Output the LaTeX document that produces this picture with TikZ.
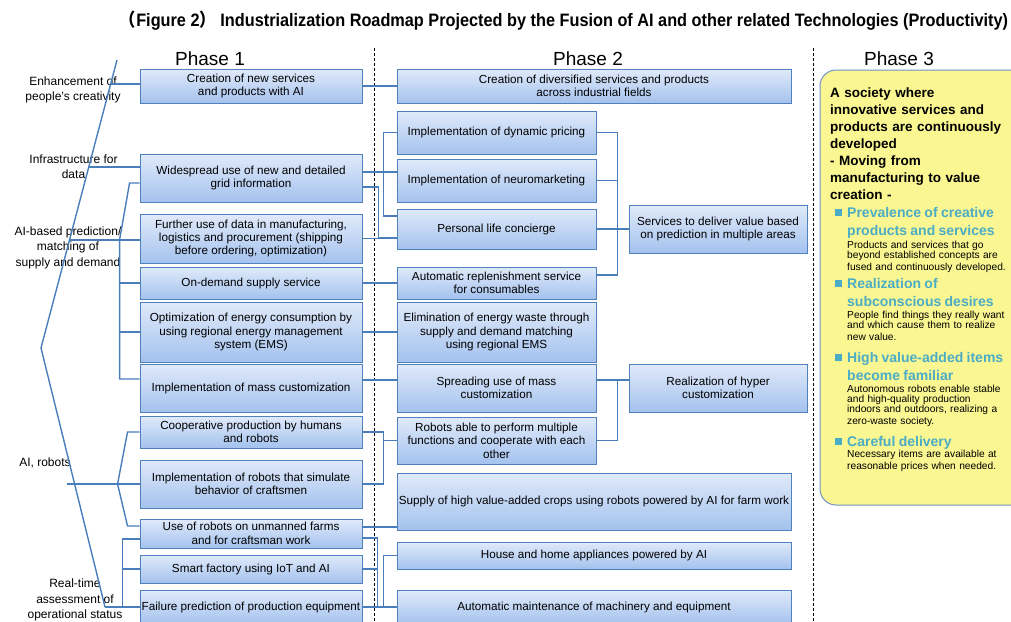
\documentclass[tikz,border=0pt]{standalone}
\usepackage{fontspec}
\setmainfont{Liberation Sans}
\newfontfamily\cjk{Noto Sans CJK SC}
\usetikzlibrary{positioning,calc,shadows}

\definecolor{boxtop}{RGB}{224,234,250}
\definecolor{boxbot}{RGB}{164,194,238}
\definecolor{boxline}{RGB}{79,129,189}
\definecolor{linkblue}{RGB}{74,126,187}
\definecolor{societyfill}{RGB}{250,246,145}
\definecolor{societyline}{RGB}{110,145,200}
\definecolor{itemteal}{RGB}{75,172,198}

\newcommand{\titlefont}{\fontsize{18pt}{21pt}\selectfont\bfseries}
\newcommand{\phasefont}{\fontsize{19pt}{22pt}\selectfont}
\newcommand{\boxfont}{\fontsize{11.7pt}{13.4pt}\selectfont}
\newcommand{\axisfont}{\fontsize{12pt}{15.5pt}\selectfont}
\newcommand{\societyfont}{\fontsize{13.5pt}{17pt}\selectfont\bfseries}
\newcommand{\itemHead}{\fontsize{14pt}{18pt}\selectfont\bfseries\color{itemteal}}
\newcommand{\itemBody}{\fontsize{10.2pt}{10pt}\selectfont\mdseries\color{black}}
\newcommand{\itemBullet}{\leavevmode\llap{\textcolor{itemteal}{\rule[1.5pt]{7pt}{7pt}}\hspace{5pt}}}

\begin{document}
\begin{tikzpicture}[x=1pt,y=-1pt]

    \tikzstyle{task} = [rectangle, draw=boxline, line width=0.9pt, top color=boxtop, bottom color=boxbot, align=center, inner sep=1pt, font=\boxfont, drop shadow={shadow xshift=1.2pt,shadow yshift=-1.2pt,opacity=0.25}]
    \tikzstyle{oneBox} = [task, minimum width=222pt]
    \tikzstyle{twoBox} = [task, minimum width=199pt]
    \tikzstyle{wideBox} = [task, minimum width=394pt]
    \tikzstyle{endBox} = [task, minimum width=178pt]
    \tikzstyle{link} = [draw=linkblue, line width=1.4pt]
    \tikzstyle{axis} = [font=\axisfont, align=center, inner sep=0pt]
    \tikzstyle{divider} = [densely dashed, line width=0.6pt]
    \tikzstyle{item} = [anchor=north west, text width=172pt, align=left, inner sep=0pt]

    \useasboundingbox (0,0) rectangle (1011,621);
    \clip (0,0) rectangle (1011,621);

    \node (title) at (564,21) {\resizebox{888pt}{\height}{\titlefont{\cjk （}Figure 2{\cjk ）} Industrialization Roadmap Projected by the Fusion of AI and other related Technologies (Productivity)}};

    \node[font=\phasefont] (phaseOne) at (210,59) {Phase 1};
    \node[font=\phasefont] (phaseTwo) at (588,59) {Phase 2};
    \node[font=\phasefont] (phaseThree) at (899,59) {Phase 3};

    \draw[divider] (374,48) -- (374,621);
    \draw[divider] (813,48) -- (813,621);

    % themes on the left
    \node[axis] (creativity) at (73,90) {Enhancement of\\people’s creativity};
    \node[axis] (dataInfra) at (73.5,166.5) {Infrastructure for\\data};
    \node[axis] (aiMatch) at (68,247.5) {AI-based prediction/\\matching of\\supply and demand};
    \node[axis] (aiRobot) at (45,463) {AI, robots};
    \node[axis] (realTime) at (75,600) {Real-time\\assessment of\\operational status};

    % phase 1
    \node[oneBox, minimum height=34pt] (newServ) at (251,86) {Creation of new services\\and products with AI};
    \node[oneBox, minimum height=48pt] (gridInfo) at (251,178) {Widespread use of new and detailed\\grid information};
    \node[oneBox, minimum height=49pt] (dataUse) at (251,238.5) {Further use of data in manufacturing,\\logistics and procurement (shipping\\before ordering, optimization)};
    \node[oneBox, minimum height=32pt] (onDemand) at (251,283) {On-demand supply service};
    \node[oneBox, minimum height=60pt] (energyOpt) at (251,332) {Optimization of energy consumption by\\using regional energy management\\system (EMS)};
    \node[oneBox, minimum height=48pt] (massCust) at (251,388) {Implementation of mass customization};
    \node[oneBox, minimum height=32pt] (coopProd) at (251,432) {Cooperative production by humans\\and robots};
    \node[oneBox, minimum height=48pt] (craftRobot) at (251,484) {Implementation of robots that simulate\\behavior of craftsmen};
    \node[oneBox, minimum height=29pt] (farmRobot) at (251,533.5) {Use of robots on unmanned farms\\and for craftsman work};
    \node[oneBox, minimum height=28pt] (smartFactory) at (251,569) {Smart factory using IoT and AI};
    \node[oneBox, minimum height=34pt] (failPred) at (251,607) {Failure prediction of production equipment};

    % phase 2
    \node[wideBox, minimum height=34pt] (diverseServ) at (594,86) {Creation of diversified services and products\\across industrial fields};
    \node[twoBox, minimum height=43pt] (dynPricing) at (496.5,132.5) {Implementation of dynamic pricing};
    \node[twoBox, minimum height=43pt] (neuroMkt) at (496.5,180.5) {Implementation of neuromarketing};
    \node[twoBox, minimum height=40pt] (concierge) at (496.5,229) {Personal life concierge};
    \node[twoBox, minimum height=32pt] (replenish) at (496.5,283) {Automatic replenishment service\\for consumables};
    \node[twoBox, minimum height=60pt] (energyWaste) at (496.5,332) {Elimination of energy waste through\\supply and demand matching\\using regional EMS};
    \node[twoBox, minimum height=48pt] (massSpread) at (496.5,388) {Spreading use of mass\\customization};
    \node[twoBox, minimum height=47pt] (multiRobot) at (496.5,440.5) {Robots able to perform multiple\\functions and cooperate with each\\other};
    \node[wideBox, minimum height=57pt] (cropSupply) at (594,501.5) {Supply of high value-added crops using robots powered by AI for farm work};
    \node[wideBox, minimum height=27pt] (homeAppl) at (594,555.5) {House and home appliances powered by AI};
    \node[wideBox, minimum height=34pt] (autoMaint) at (594,607) {Automatic maintenance of machinery and equipment};
    \node[endBox, minimum height=48pt] (predServ) at (718,229) {Services to deliver value based\\on prediction in multiple areas};
    \node[endBox, minimum height=48pt] (hyperCust) at (718,388) {Realization of hyper\\customization};

    % phase 3
    \node[rectangle, rounded corners=16pt, draw=societyline, line width=1pt, fill=societyfill, minimum width=240pt, minimum height=435pt] (society) at (940,287.5) {};
    \node[item, font=\societyfont] (societyHead) at (830,88) {A society where\\innovative services and\\products are continuously\\developed\\- Moving from\\manufacturing to value\\creation -};
    \node[item] (creative) at (847,207) {\itemBullet\itemHead Prevalence of creative\\products and services\par\vspace{2pt}\itemBody Products and services that go\\beyond established concepts are\\fused and continuously developed.};
    \node[item] (desires) at (847,278) {\itemBullet\itemHead Realization of\\subconscious desires\par\vspace{2pt}\itemBody People find things they really want\\and which cause them to realize\\new value.};
    \node[item] (familiar) at (847,352) {\itemBullet\itemHead High value-added items\\become familiar\par\vspace{2pt}\itemBody Autonomous robots enable stable\\and high-quality production\\indoors and outdoors, realizing a\\zero-waste society.};
    \node[item] (delivery) at (847,436) {\itemBullet\itemHead Careful delivery\par\itemBody Necessary items are available at\\reasonable prices when needed.};

    % spine and branches
    \coordinate (spineTop) at (117,60);
    \coordinate (spineTip) at (41,348);
    \coordinate (spineEnd) at (105,607);
    \draw[link] (spineTop) -- (spineTip) -- (spineEnd);
    \draw[link] ([yshift=2pt]newServ.west) -- ++(-29,0);
    \draw[link] ([yshift=11pt]gridInfo.west) -- ++(-51,0);
    \draw[link] ([yshift=-1.5pt]dataUse.west) -- ++(-71,0);
    \draw[link] (craftRobot.west) -- ++(-73,0);
    \draw[link] (spineEnd) -- (failPred.west);

    \draw[link] ([yshift=-5pt]gridInfo.west) -- ++(-10,0) -- ++(-10,57) |- ([yshift=9pt]massCust.west);
    \draw[link] (onDemand.west) -- ++(-20,0);
    \draw[link] (energyOpt.west) -- ++(-20,0);
    \draw[link] (coopProd.west) -- ++(-12,0) -- ++(-10,52) -- ++(10,42) -- ([yshift=7.5pt]farmRobot.west);
    \draw[link] ([yshift=-5.5pt]farmRobot.west) -- ++(-17,0) |- (failPred.west);
    \draw[link] (smartFactory.west) -- ++(-17,0);

    % phase 1 to phase 2
    \draw[link] (newServ.east) -- (diverseServ.west);
    \draw[link] ([yshift=6pt]gridInfo.east) -- ([yshift=6pt]gridInfo.east -| neuroMkt.west);
    \draw[link] (dynPricing.west) -- ++(-13,0) |- ([yshift=13pt]concierge.west);
    \draw[link] ([yshift=-9pt]gridInfo.east) -- ++(16,0) |- ([yshift=-9pt]concierge.west);
    \draw[link] (dataUse.east) -- (dataUse.east -| concierge.west);
    \draw[link] (onDemand.east) -- (replenish.west);
    \draw[link] (energyOpt.east) -- (energyWaste.west);
    \draw[link] ([yshift=8pt]massCust.east) -- ([yshift=8pt]massSpread.west);
    \draw[link] (coopProd.east) -- ++(21,0) |- (craftRobot.east);
    \draw[link] (multiRobot.west) -- ++(-14,0);
    \draw[link] ([yshift=6.5pt]farmRobot.east) -- ([yshift=6.5pt]farmRobot.east -| cropSupply.west);
    \draw[link] ([yshift=-4.5pt]farmRobot.east) -- ++(15,0) |- (autoMaint.west);
    \draw[link] (smartFactory.east) -- ++(15,0);
    \draw[link] (failPred.east) -- (autoMaint.west);
    \draw[link] (homeAppl.west) -- ++(-13,0) |- (autoMaint.west);

    % phase 2 to the right column
    \draw[link] (dynPricing.east) -- ++(21,0) |- ([yshift=8pt]replenish.east);
    \draw[link] (neuroMkt.east) -- ++(21,0);
    \draw[link] (concierge.east) -- (predServ.west);
    \draw[link] ([yshift=8pt]massSpread.east) -- ([yshift=8pt]hyperCust.west);
    \draw[link] ([yshift=8pt]massSpread.east) ++(21,0) |- (multiRobot.east);

\end{tikzpicture}
\end{document}
